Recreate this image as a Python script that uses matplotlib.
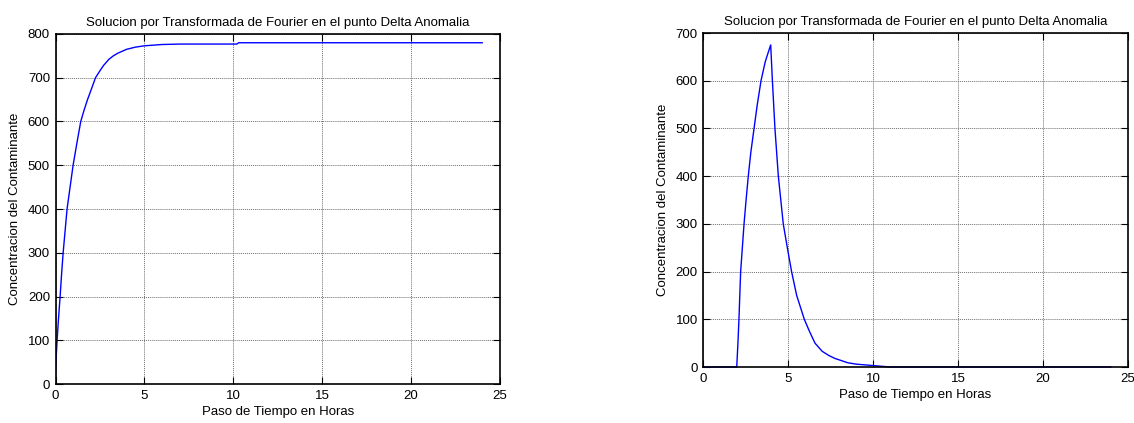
#Grafica de la solucion por Transformada de Fourier en el punto Delta Anomalia
#Dos casos: fuente continua (izquierda) y fuente de 2 a 4 horas (derecha)

import matplotlib
matplotlib.use('Agg')
import matplotlib.pyplot as plt

#Datos
#Caso 1: fuente continua
tiempo1 = [0, 0.03, 0.09, 0.17, 0.26, 0.34, 0.43, 0.54, 0.65, 0.82, 0.99, 1.2, 1.42, 1.6, 1.8, 2.0, 2.25, 2.5, 2.7, 3.0, 3.25, 3.5, 4.0, 4.5, 5.0, 6.0, 7.0, 8.0, 10.2, 10.3, 24.0]
concentracion1 = [27, 55, 100, 150, 200, 250, 300, 350, 400, 450, 500, 550, 600, 625, 650, 672, 700, 716, 728, 742, 750, 756, 765, 770, 773, 776, 777, 777, 777, 780, 780]

#Caso 2: fuente entre las 2 y 4 horas
tiempo2 = [0, 1.97, 2.04, 2.1, 2.2, 2.3, 2.4, 2.52, 2.65, 2.8, 2.99, 3.18, 3.4, 3.65, 3.85, 3.97, 4.07, 4.22, 4.42, 4.71, 4.95, 5.2, 5.5, 5.95, 6.25, 6.58, 7.0, 7.4, 7.75, 8.5, 9.0, 10.0, 11.0, 24.0]
concentracion2 = [0, 0, 50, 100, 200, 250, 300, 350, 400, 450, 500, 550, 600, 640, 662, 675, 600, 500, 400, 300, 250, 200, 150, 100, 75, 50, 33, 24, 18, 9, 6, 3, 0, 0]

titulo = 'Solucion por Transformada de Fourier en el punto Delta Anomalia'
etiquetaX = 'Paso de Tiempo en Horas'
etiquetaY = 'Concentracion del Contaminante'

plt.rcParams['font.family'] = ['Liberation Sans', 'DejaVu Sans']

fig = plt.figure(figsize=(11.34, 4.23), dpi=100)
W = 1134.0
H = 423.0
ax1 = fig.add_axes([55.5/W, (H-384)/H, 444.5/W, 350/H])
ax2 = fig.add_axes([703.3/W, (H-367)/H, 424.4/W, 334/H])

#Estilo tipo MATLAB para los dos ejes
def estilo(ax, ymax, ypaso):
	ax.set_xlim(0, 25)
	ax.set_ylim(0, ymax)
	ax.set_xticks(range(0, 26, 5))
	ax.set_yticks(range(0, ymax+1, ypaso))
	ax.grid(True, linestyle=(0, (1, 1)), color='#707070', linewidth=0.7)
	ax.tick_params(direction='in', length=5, width=0.8, top=True, right=True, labelsize=9.5, pad=4)
	for lado in ax.spines.values():
		lado.set_linewidth(1.2)
	ax.set_title(titulo, fontsize=9.5, pad=6)
	ax.set_xlabel(etiquetaX, fontsize=9.5, labelpad=3)
	ax.set_ylabel(etiquetaY, fontsize=9.5, labelpad=5)

estilo(ax1, 800, 100)
estilo(ax2, 700, 100)

ax1.plot(tiempo1, concentracion1, color='blue', linewidth=1)
ax2.plot(tiempo2, concentracion2, color='blue', linewidth=1, clip_on=False)

fig.savefig('out.png', dpi=100)
